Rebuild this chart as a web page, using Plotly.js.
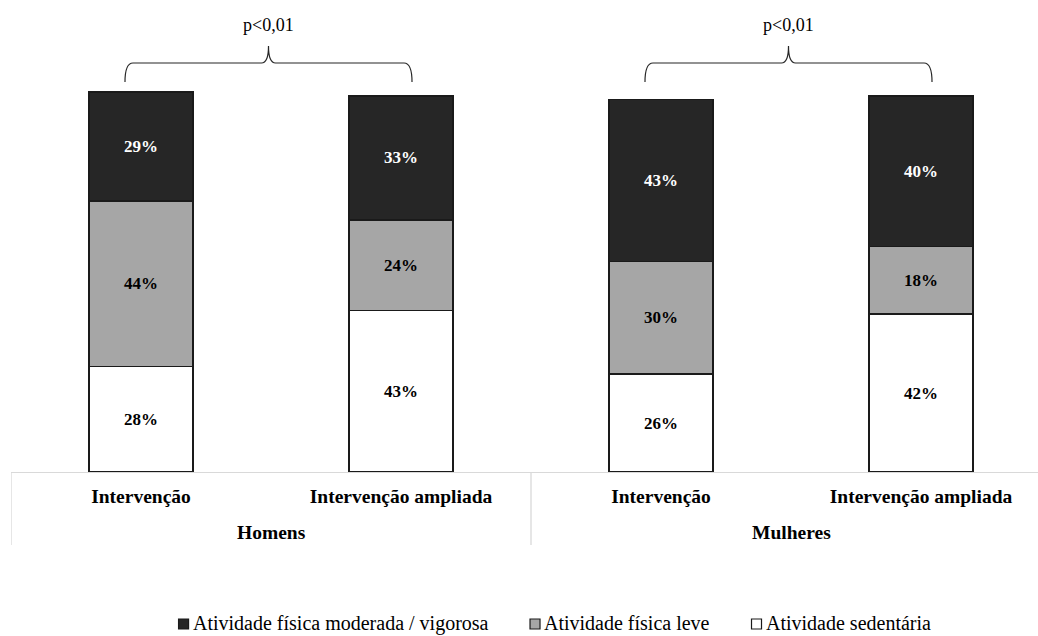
<!DOCTYPE html>
<html>
<head>
<meta charset="utf-8">
<script src="https://cdn.plot.ly/plotly-3.0.1.min.js"></script>
<style>html,body{margin:0;padding:0;background:#fff;}#chart{width:1038px;height:636px;}</style>
</head>
<body>
<div id="chart"></div>
<script>
// ---- data ----
const groups = ["Homens", "Homens", "Mulheres", "Mulheres"];
const arms = ["Intervenção", "Intervenção ampliada", "Intervenção", "Intervenção ampliada"];
const sedentaria = [28, 43, 26, 42];
const leve = [44, 24, 30, 18];
const moderada = [29, 33, 43, 40];
const seriesNames = ["Atividade sedentária", "Atividade física leve", "Atividade física moderada / vigorosa"];
const pLabels = ["p<0,01", "p<0,01"];

// ---- styling ----
const SERIF = "Liberation Serif, Times New Roman, serif";
const fills = ["#ffffff", "#a6a6a6", "#262626"];
const textColors = ["#000000", "#000000", "#ffffff"];
const values = [sedentaria, leve, moderada];

// unique category keys (group + arm), shown with the arm name as tick text
const keys = groups.map((g, i) => g + " | " + arms[i]);

const traces = values.map((v, k) => ({
  type: "bar",
  name: seriesNames[k],
  x: keys,
  y: v,
  marker: {color: fills[k], line: {color: "#1a1a1a", width: 1.5}},
  texttemplate: "%{y}%",
  textposition: "inside",
  insidetextanchor: "middle",
  textangle: 0,
  constraintext: "none",
  textfont: {family: SERIF, size: 17, color: textColors[k], weight: "bold"},
  hoverinfo: "skip",
  showlegend: false
}));

// geometry of the plot area (pixels) used for decorations
const FIG_W = 1038, FIG_H = 636;
const M = {l: 11, r: 0, t: 0, b: 164};
const PW = FIG_W - M.l - M.r, PH = FIG_H - M.t - M.b;
const XR = [-0.5, 3.45], YR = [0, 125.5];
const xpx = i => M.l + (i - XR[0]) / (XR[1] - XR[0]) * PW;
const X = px => (px - M.l) / PW;
const Y = py => (M.t + PH - py) / PH;

function bracePath(xl, xr, yEnd, yBar, yTip) {
  const xc = (xl + xr) / 2;
  const P = (a, b) => X(a).toFixed(5) + "," + Y(b).toFixed(5);
  return "M" + P(xl, yEnd) +
    " Q" + P(xl, yBar) + " " + P(xl + 8, yBar) +
    " L" + P(xc - 7, yBar) +
    " Q" + P(xc, yBar) + " " + P(xc, yTip) +
    " Q" + P(xc, yBar) + " " + P(xc + 7, yBar) +
    " L" + P(xr - 8, yBar) +
    " Q" + P(xr, yBar) + " " + P(xr, yEnd);
}

const shapes = [], annotations = [];
const AXIS_GREY = "#d9d9d9";

// significance braces
[[0, 1], [2, 3]].forEach((pair, g) => {
  const xl = xpx(pair[0]) - 16, xr = xpx(pair[1]) + 11;
  shapes.push({type: "path", xref: "paper", yref: "paper",
    path: bracePath(xl, xr, 82, 63, 46),
    line: {color: "#262626", width: 1.2}});
  annotations.push({xref: "paper", yref: "paper", x: X((xl + xr) / 2), y: Y(25),
    text: pLabels[g], showarrow: false, xanchor: "center", yanchor: "middle",
    font: {family: SERIF, size: 18, color: "#000"}});
});

// group (outer) labels and dividers
const groupNames = [...new Set(groups)];
groupNames.forEach(gn => {
  const idx = groups.map((g, i) => g === gn ? i : -1).filter(i => i >= 0);
  const mid = (idx[0] + idx[idx.length - 1]) / 2;
  annotations.push({xref: "x", yref: "paper", x: mid, y: Y(532), text: gn, showarrow: false,
    xanchor: "center", yanchor: "middle",
    font: {family: SERIF, size: 19.5, color: "#000", weight: "bold"}});
  shapes.push({type: "line", xref: "x", yref: "paper", x0: idx[0] - 0.5, x1: idx[0] - 0.5,
    y0: 0, y1: Y(545), line: {color: AXIS_GREY, width: 1.3}});
});

// legend (drawn as squares + texts, in the reference's compact style)
const LEG_FONT = 20, LEG_CY = 623, SQ = 10, SQ_GAP = 3, ITEM_GAP = 43, LEG_CX = 554;
const cv = document.createElement("canvas").getContext("2d");
cv.font = LEG_FONT + "px 'Liberation Serif'";
const legOrder = [2, 1, 0];
const widths = legOrder.map(k => cv.measureText(seriesNames[k]).width);
const total = widths.reduce((s, w) => s + SQ + SQ_GAP + w, 0) + ITEM_GAP * (legOrder.length - 1);
let cx = LEG_CX - total / 2;
legOrder.forEach((k, j) => {
  shapes.push({type: "rect", xref: "paper", yref: "paper",
    x0: X(cx), x1: X(cx + SQ), y0: Y(LEG_CY + SQ / 2 + 1), y1: Y(LEG_CY - SQ / 2 + 1),
    fillcolor: fills[k], line: {color: "#1a1a1a", width: 1.2}});
  annotations.push({xref: "paper", yref: "paper", x: X(cx + SQ + SQ_GAP), y: Y(LEG_CY),
    text: seriesNames[k], showarrow: false, xanchor: "left", yanchor: "middle", borderpad: 0,
    font: {family: SERIF, size: LEG_FONT, color: "#000"}});
  cx += SQ + SQ_GAP + widths[j] + ITEM_GAP;
});

const layout = {
  width: FIG_W, height: FIG_H,
  margin: M,
  paper_bgcolor: "#ffffff", plot_bgcolor: "#ffffff",
  barmode: "stack",
  bargap: 0.6,
  showlegend: false,
  xaxis: {type: "category", range: XR, tickvals: keys, ticktext: arms,
    showline: true, linecolor: AXIS_GREY, linewidth: 1.3,
    ticks: "outside", ticklen: 6, tickcolor: "rgba(0,0,0,0)", showgrid: false,
    tickfont: {family: SERIF, size: 19.5, color: "#000", weight: "bold"}, fixedrange: true},
  yaxis: {range: YR, visible: false, showgrid: false, zeroline: false, fixedrange: true},
  shapes: shapes,
  annotations: annotations
};

Plotly.newPlot("chart", traces, layout, {displayModeBar: false, staticPlot: true});
</script>
</body>
</html>
